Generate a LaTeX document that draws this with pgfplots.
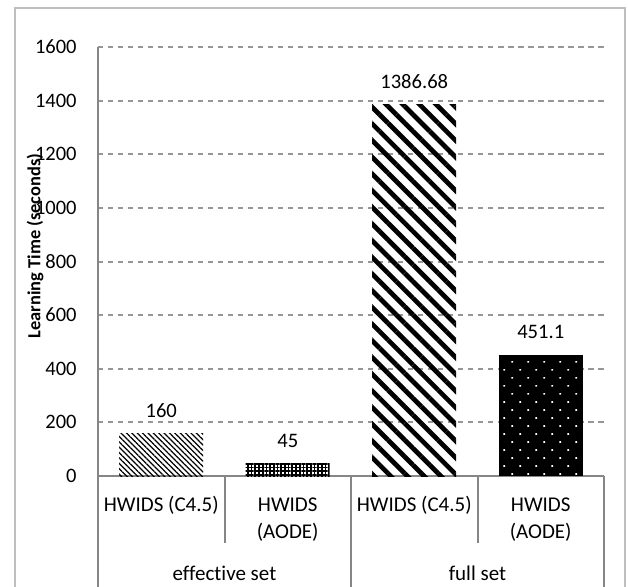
\documentclass[border=0pt]{standalone}
\usepackage{pgfplots}
\pgfplotsset{compat=1.18}
\usepackage{fontspec}
\setmainfont{Carlito}[Ligatures={NoCommon,NoRequired,NoContextual}]
\usetikzlibrary{patterns.meta}
\definecolor{axisgray}{RGB}{134,134,134}
\definecolor{gridgray}{RGB}{150,150,150}
\definecolor{framegray}{RGB}{190,190,190}

\begin{document}
\begin{tikzpicture}[x=0.5pt,y=-0.5pt]
\begin{axis}[
  at={(49pt,-238pt)}, anchor=south west,
  scale only axis, width=253pt, height=214.5pt,
  xmin=-0.5, xmax=3.5, ymin=0, ymax=1600,
  axis x line=bottom, axis y line=left,
  axis line style={-, draw=axisgray, line width=1pt},
  xtick={0,1,2,3},
  xticklabels={{\strut HWIDS (C4.5)},{\strut HWIDS\\(AODE)},{\strut HWIDS (C4.5)},{\strut HWIDS\\(AODE)}},
  ytick={0,200,...,1600},
  major tick length=0pt,
  ymajorgrids,
  grid style={draw=gridgray, line width=1pt, dash pattern=on 2.75pt off 2.25pt},
  /pgf/number format/assume math mode=true,
  /pgf/number format/1000 sep={},
  yticklabel style={font=\fontsize{10.25}{12}\selectfont, anchor=east, inner sep=0pt, xshift=-10.5pt},
  xticklabel style={font=\fontsize{10.5}{13.5}\selectfont, align=center, anchor=north, inner sep=0pt, yshift=-7.85pt},
  ylabel={Learning Time (seconds)},
  ylabel style={font=\bfseries\fontsize{9.2}{11}\selectfont, at={(axis description cs:-0.1245,0.536)}, anchor=center},
  nodes near coords,
  nodes near coords style={font=\fontsize{10.3}{12}\selectfont, anchor=south, inner sep=0pt, yshift=7.75pt, text=black},
  clip=false,
]
% effective set, HWIDS (C4.5)
\addplot[ybar, bar width=42pt, bar shift=0pt, draw=none,
  pattern={Lines[angle=-45,distance=1.9pt,line width=0.6pt]}, pattern color=black]
  coordinates {(0,160)};
% effective set, HWIDS (AODE)
\addplot[ybar, bar width=42pt, bar shift=0pt, draw=none,
  pattern={Hatch[angle=0,distance=1.85pt,line width=0.85pt]}, pattern color=black]
  coordinates {(1,45)};
% full set, HWIDS (C4.5)
\addplot[ybar, bar width=42pt, bar shift=0pt, draw=none,
  pattern={Lines[angle=-45,distance=5.9pt,line width=2.35pt]}, pattern color=black]
  coordinates {(2,1386.68)};
% full set, HWIDS (AODE)
\addplot[ybar, bar width=42pt, bar shift=0pt, draw=none, fill=black,
  postaction={pattern={Dots[angle=45,distance=5.66pt,radius=0.6pt]}, pattern color=white}]
  coordinates {(3,451.1)};
\end{axis}
% category table below the axis
\draw[axisgray, line width=1pt] (98,476) -- (98,600);
\draw[axisgray, line width=1pt] (351,476) -- (351,600);
\draw[axisgray, line width=1pt] (604,476) -- (604,600);
\draw[axisgray, line width=1pt] (224.5,476) -- (224.5,543);
\draw[axisgray, line width=1pt] (477.5,476) -- (477.5,543);
\node[anchor=base, inner sep=0pt, font=\fontsize{10.5}{12}\selectfont] at (224.5,580) {effective set};
\node[anchor=base, inner sep=0pt, font=\fontsize{10.5}{12}\selectfont] at (477.5,580) {full set};
% chart frame
\draw[framegray, line width=0.75pt] (15,600) -- (15,8) -- (625,8) -- (625,600);
\pgfresetboundingbox
\useasboundingbox (0,0) rectangle (628,586);
\end{tikzpicture}
\end{document}
